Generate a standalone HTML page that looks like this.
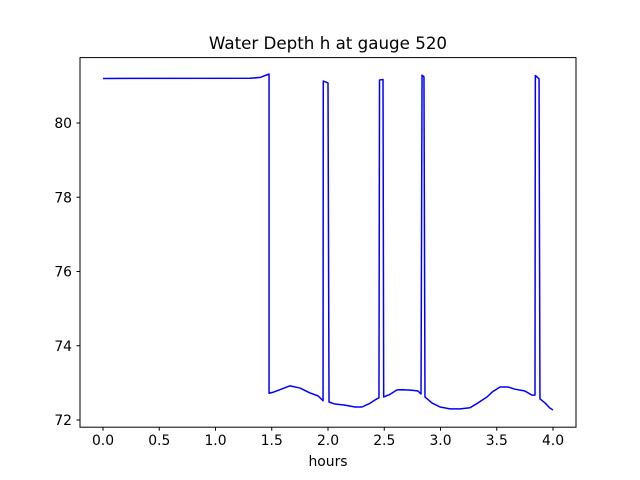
<!DOCTYPE html>
<html><head><meta charset="utf-8"><style>
body{margin:0;background:#fff;font-family:"DejaVu Sans","Liberation Sans",sans-serif}
</style></head><body>
<svg id="chart" width="640" height="480" xmlns="http://www.w3.org/2000/svg" style="display:block;font-family:'DejaVu Sans','Liberation Sans',sans-serif">
<rect width="640" height="480" fill="#fff"/>
<text x="328" y="49" text-anchor="middle" font-size="16.7" fill="#000">Water Depth h at gauge 520</text>
<g id="plot"></g>
<rect x="80" y="57.6" width="496" height="369.6" fill="none" stroke="#000" stroke-width="1"/>
<text x="328" y="466" text-anchor="middle" font-size="13.9" fill="#000">hours</text>
</svg>
<script>
const hours=[0,1.307,1.40,1.476,1.476,1.52,1.662,1.751,1.84,1.911,1.956,1.958,2.0,2.009,2.062,2.151,2.24,2.302,2.373,2.418,2.453,2.458,2.489,2.495,2.551,2.613,2.667,2.747,2.8,2.827,2.836,2.853,2.862,2.924,2.996,3.084,3.173,3.262,3.333,3.413,3.458,3.529,3.6,3.662,3.751,3.813,3.84,3.843,3.876,3.884,3.929,3.973,4.0];
const depth=[81.2,81.204,81.23,81.32,72.72,72.755,72.92,72.86,72.73,72.65,72.52,81.13,81.08,72.485,72.43,72.40,72.35,72.35,72.45,72.54,72.60,81.16,81.17,72.62,72.69,72.81,72.815,72.80,72.78,72.70,81.29,81.24,72.62,72.46,72.35,72.30,72.30,72.33,72.46,72.62,72.75,72.89,72.89,72.83,72.78,72.67,72.67,81.28,81.19,72.57,72.46,72.32,72.27];
const xTicks=[0,0.5,1,1.5,2,2.5,3,3.5,4];
const xTickLabels=["0.0","0.5","1.0","1.5","2.0","2.5","3.0","3.5","4.0"];
const yTicks=[72,74,76,78,80];
const yTickLabels=["72","74","76","78","80"];
const X=v=>103+v*112.5;
const Y=v=>420-(v-72)*37.125;
const NS="http://www.w3.org/2000/svg";
const g=document.getElementById('plot');
function mk(t,a){const e=document.createElementNS(NS,t);for(const k in a)e.setAttribute(k,a[k]);g.appendChild(e);return e;}
xTicks.forEach((t,i)=>{
 const l=mk('line',{x1:X(t),x2:X(t),y1:427.2,y2:430.7,stroke:'#000'});
 
 
 const tx=mk('text',{x:X(t),y:445,'text-anchor':'middle','font-size':'13.9'});
 tx.textContent=xTickLabels[i];
 
 
});
yTicks.forEach((t,i)=>{
 const l=mk('line',{x1:76.5,x2:80,y1:Y(t),y2:Y(t),stroke:'#000'});
 
 
 const tx=mk('text',{x:72,y:Y(t)+5,'text-anchor':'end','font-size':'13.9'});
 tx.textContent=yTickLabels[i];
 
 
});
const p=mk('polyline',{points:hours.map((h,i)=>X(h)+','+Y(depth[i])).join(' '),fill:'none',stroke:'#0000ff','stroke-width':1.5,'stroke-linejoin':'round'});


</script>
</body></html>
